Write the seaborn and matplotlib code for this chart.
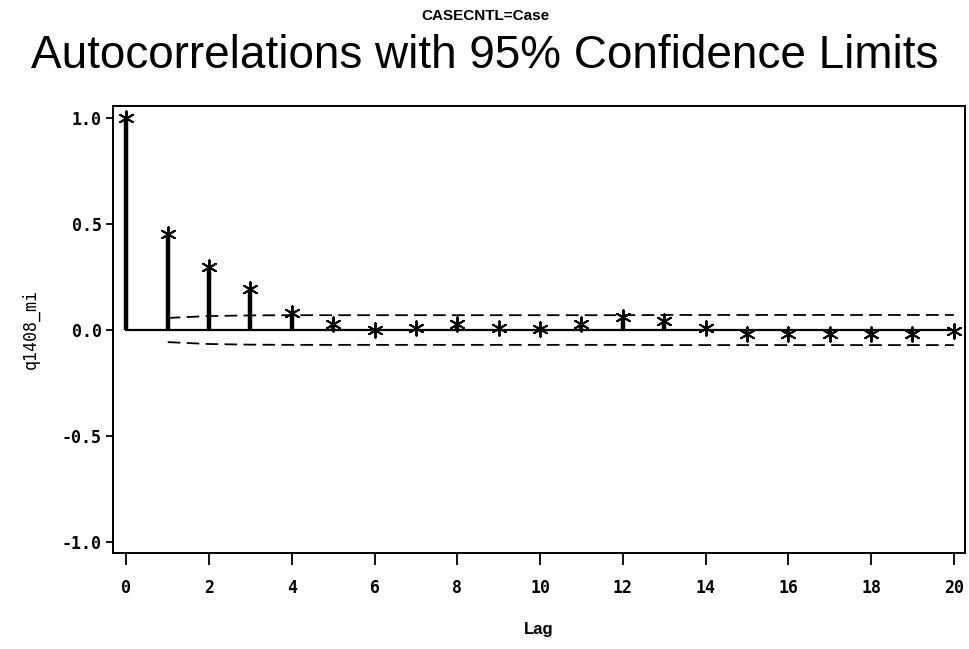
import matplotlib
matplotlib.use("Agg")
import matplotlib.pyplot as plt
import seaborn as sns
import pandas as pd

# ---- data ----
lags = list(range(21))
acf = [1.0, 0.455, 0.295, 0.195, 0.082, 0.028, 0.0, 0.01, 0.03, 0.01, 0.005,
       0.03, 0.062, 0.043, 0.01, -0.02, -0.02, -0.018, -0.02, -0.018, -0.005]
conf_lags = list(range(1, 21))
conf_upper = [0.057, 0.066, 0.069, 0.070, 0.070, 0.070, 0.070, 0.070, 0.070, 0.070,
              0.070, 0.070, 0.071, 0.071, 0.071, 0.071, 0.071, 0.071, 0.071, 0.071]
conf_lower = [-v for v in conf_upper]
x_ticks = [0, 2, 4, 6, 8, 10, 12, 14, 16, 18, 20]
y_ticks = [-1.0, -0.5, 0.0, 0.5, 1.0]

df = pd.DataFrame({"Lag": lags, "acf": acf, "zero": [0.0] * len(lags)})
cf = pd.DataFrame({"Lag": conf_lags, "upper": conf_upper, "lower": conf_lower})

sns.set_theme(style="white")
plt.rcParams["font.family"] = ["DejaVu Sans"]
plt.rcParams["text.color"] = "black"
plt.rcParams["axes.labelcolor"] = "black"
plt.rcParams["xtick.color"] = "black"
plt.rcParams["ytick.color"] = "black"

fig = plt.figure(figsize=(9.70, 6.49), dpi=100)
ax = fig.add_axes([0.1162, 0.1479, 0.8786, 0.6888])

# zero reference line
sns.lineplot(data=df, x="Lag", y="zero", ax=ax, color="black", linewidth=1.6)
# confidence limits
n_before = len(ax.lines)
sns.lineplot(data=cf, x="Lag", y="upper", ax=ax, color="black", linewidth=1.3)
sns.lineplot(data=cf, x="Lag", y="lower", ax=ax, color="black", linewidth=1.3)
for ln in ax.lines[n_before:]:
    ln.set_linestyle((0, (7.0, 3.5)))
# stems
ax.vlines(df["Lag"], 0, df["acf"], color="black", linewidth=3.2)
# star markers
sns.scatterplot(data=df, x="Lag", y="acf", ax=ax, marker=(6, 2, 0), s=110,
                color="black", linewidth=1.4, zorder=5)

ax.set_xlim(-0.33, 20.27)
ax.set_ylim(-1.052, 1.057)
ax.set_xticks(x_ticks)
ax.set_yticks(y_ticks)
ax.set_xticklabels([str(t) for t in x_ticks], fontfamily="DejaVu Sans Mono",
                   fontweight="bold", fontsize=12)
ax.set_yticklabels([f"{t:.1f}" for t in y_ticks], fontfamily="DejaVu Sans Mono",
                   fontweight="bold", fontsize=12)
ax.tick_params(axis="x", direction="out", length=8.5, width=1.3, color="black", pad=10)
ax.tick_params(axis="y", direction="out", length=5, width=1.3, color="black", pad=3)
ax.tick_params(bottom=True, left=True)

for sp in ax.spines.values():
    sp.set_visible(True)
    sp.set_color("black")
    sp.set_linewidth(1.4)

ax.set_xlabel("Lag", fontfamily="Liberation Sans", fontweight="bold", fontsize=12,
              labelpad=18)
ax.set_ylabel("q1408_mi", fontfamily="DejaVu Sans Mono", fontsize=12, labelpad=16)

fig.text(0.5, 0.975, "CASECNTL=Case", ha="center", va="center",
         fontfamily="Liberation Sans", fontweight="bold", fontsize=11)
fig.text(0.5, 0.913, "Autocorrelations with 95% Confidence Limits", ha="center",
         va="center", fontfamily="Liberation Sans", fontsize=33)

fig.savefig("out.png", dpi=100, facecolor="white")
